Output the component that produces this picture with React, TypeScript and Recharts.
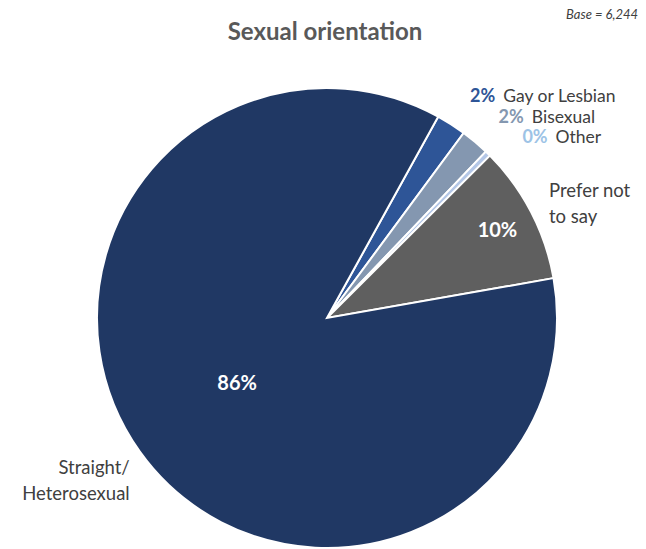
import { PieChart, Pie, Cell } from 'recharts';

const CATEGORIES = ['Gay or Lesbian', 'Bisexual', 'Other', 'Prefer not to say', 'Straight/Heterosexual'];
const NAME_LINES = [['Gay or Lesbian'], ['Bisexual'], ['Other'], ['Prefer not', 'to say'], ['Straight/', 'Heterosexual']];
const VALUES = [2.1, 2.0, 0.4, 9.7, 85.8];
const PCT_LABELS = ['2%', '2%', '0%', '10%', '86%'];

const COLORS = ['#2e5597', '#8497b0', '#b4c7e7', '#5f5f5f', '#203864'];
const PCT_COLORS = ['#2e5597', '#8497b0', '#9dc3e6', '#ffffff', '#ffffff'];

// outside label placement for the three thin slices: [extra radius, angle shift]
const SMALL_LABEL_POS = [[49, -4.4], [52, -4.2], [56, -6.1]];

const data = CATEGORIES.map((name, i) => ({ name, value: VALUES[i] }));

const FONT = 'Lato, "Open Sans", sans-serif';
const RAD = Math.PI / 180;

function renderLabel(props: any) {
  const { cx, cy, midAngle, outerRadius, index } = props;
  const pt = (r: number, a: number) => ({
    x: cx + r * Math.cos(-a * RAD),
    y: cy + r * Math.sin(-a * RAD),
  });

  if (index < 3) {
    const [dr, da] = SMALL_LABEL_POS[index];
    const p = pt(outerRadius + dr, midAngle + da);
    return (
      <g key={index}>
        <text x={p.x} y={p.y} textAnchor="end" dominantBaseline="central" fill={PCT_COLORS[index]} fontSize={18} fontWeight={700} fontFamily={FONT}>
          {PCT_LABELS[index]}
        </text>
        <text x={p.x + 8} y={p.y} textAnchor="start" dominantBaseline="central" fill="#404040" fontSize={17.5} fontFamily={FONT}>
          {NAME_LINES[index][0]}
        </text>
      </g>
    );
  }

  const inner = pt(outerRadius * (index === 3 ? 0.835 : 0.48), midAngle);
  const out = pt(outerRadius + 10, midAngle);
  const right = index === 3;
  return (
    <g key={index}>
      <text x={inner.x} y={inner.y} textAnchor="middle" dominantBaseline="central" fill={PCT_COLORS[index]} fontSize={20} fontWeight={700} fontFamily={FONT}>
        {PCT_LABELS[index]}
      </text>
      {NAME_LINES[index].map((line, j) => (
        <text
          key={j}
          x={right ? out.x + 9 : out.x - 2}
          y={right ? out.y - 17 + j * 26 : out.y + 9 + j * 26}
          textAnchor={right ? 'start' : 'end'}
          dominantBaseline="central"
          fill="#404040"
          fontSize={18.5}
          fontFamily={FONT}
        >
          {line}
        </text>
      ))}
    </g>
  );
}

export default function App() {
  return (
    <div style={{ position: 'absolute', left: 0, top: 0, width: 646, height: 549, background: '#fff', fontFamily: FONT }}>
      <div style={{ position: 'absolute', left: 0, width: 646, top: 16, textAlign: 'center', paddingLeft: 4, boxSizing: 'border-box', fontSize: 24, fontWeight: 700, color: '#595959' }}>
        Sexual orientation
      </div>
      <div style={{ position: 'absolute', right: 8, top: 6, fontSize: 13, fontStyle: 'italic', color: '#404040' }}>
        Base = 6,244
      </div>
      <PieChart width={646} height={549} margin={{ top: 0, right: 0, bottom: 0, left: 0 }} style={{ position: 'absolute', left: 0, top: 0 }}>
        <Pie
          data={data}
          dataKey="value"
          nameKey="name"
          cx={327}
          cy={318}
          outerRadius={230}
          startAngle={61.1}
          endAngle={-298.9}
          stroke="#ffffff"
          strokeWidth={2}
          labelLine={false}
          label={renderLabel}
          isAnimationActive={false}
        >
          {data.map((_, i) => (
            <Cell key={i} fill={COLORS[i]} />
          ))}
        </Pie>
      </PieChart>
    </div>
  );
}
